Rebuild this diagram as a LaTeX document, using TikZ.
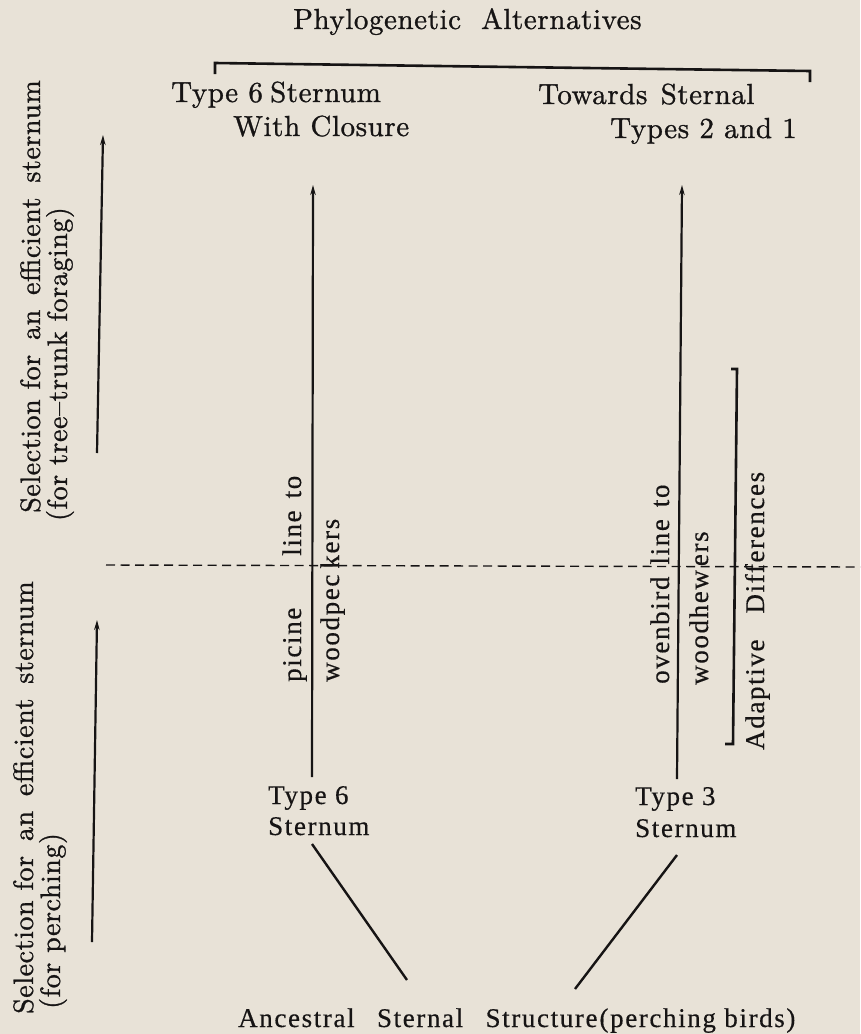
\documentclass[tikz,border=0pt]{standalone}
\usepackage{fontspec}
\setmainfont{Liberation Serif}
\newfontfamily\fa{lmroman10-regular.otf}[LetterSpace=2,FakeBold=1]
\newfontfamily\fb{Liberation Serif}[LetterSpace=6,FakeBold=0.4]
\usetikzlibrary{arrows.meta}
\definecolor{paper}{RGB}{232,226,215}
\definecolor{ink}{RGB}{22,20,20}
\begin{document}
\begin{tikzpicture}[x=1pt,y=-1pt,
  upper/.style={font=\fa\fontsize{29}{32}\selectfont, inner sep=0pt, text=ink},
  side/.style={font=\fa\fontsize{28}{31}\selectfont, inner sep=0pt, text=ink},
  lower/.style={font=\fb\fontsize{27}{30}\selectfont, inner sep=0pt, text=ink},
  arr/.style={draw=ink, line width=2.2pt, -{Stealth[length=10pt,width=5.5pt]}},
  plainline/.style={draw=ink, line width=2.4pt},
  bracketline/.style={draw=ink, line width=2.6pt, line cap=butt},
  dashline/.style={draw=ink, line width=1.4pt, dash pattern=on 9pt off 5.5pt}]
\fill[paper] (0,0) rectangle (860,1034);
\useasboundingbox (0,0) rectangle (860,1034);

% top texts
\node[upper, anchor=base west] (title) at (293,29) {Phylogenetic\hspace{20pt}Alternatives};
\node[upper, anchor=base west] (t6a) at (171,102) {Type 6\hspace{-3pt} Sternum};
\node[upper, anchor=base west] (t6b) at (233,136) {With Closure};
\node[upper, anchor=base west] (t21a) at (538,104) {Towards\hspace{3pt} Sternal};
\node[upper, anchor=base west] (t21b) at (610,138) {Types 2 and 1};

% phylogenetic bracket
\coordinate (bl0) at (215,74);
\coordinate (bl1) at (215,63);
\coordinate (br1) at (810,71);
\coordinate (br0) at (810,82);
\draw[bracketline] (bl0) -- (bl1) -- (br1) -- (br0);

% left vertical texts
\node[side, rotate=90, anchor=base east] (selU) at (40,80) {Selection for\hspace{5pt} an\hspace{5pt} efficient\hspace{5pt} sternum};
\node[side, rotate=90, anchor=base east] (forU) at (67,207) {(for tree–trunk foraging)};
\node[side, rotate=90, anchor=base west] (selL) at (33,1014) {Selection for\hspace{5pt} an\hspace{5pt} efficient\hspace{5pt} sternum};
\node[side, rotate=90, anchor=base west] (forL) at (60,1009) {(for perching)};

% left arrows
\coordinate (aU0) at (97,453);
\coordinate (aU1) at (103,135);
\coordinate (aL0) at (92,942);
\coordinate (aL1) at (97,620);
\draw[arr] (aU0) -- (aU1);
\draw[arr] (aL0) -- (aL1);

% dashed divider
\coordinate (d0) at (106,565);
\coordinate (d1) at (860,567);
\draw[dashline] (d0) -- (d1);

% lower sternum labels
\node[lower, anchor=base west] (s6a) at (268,804) {Type 6};
\node[lower, anchor=base west] (s6b) at (268,835) {Sternum};
\node[lower, anchor=base west] (s3a) at (635,805) {Type 3};
\node[lower, anchor=base west] (s3b) at (635,837) {Sternum};
\node[lower, anchor=base west] (anc) at (238,1027) {Ancestral\hspace{14pt} Sternal\hspace{14pt} Structure\hspace{2pt}(perching birds)};

% lineage arrows
\coordinate (p0) at (312,777);
\coordinate (p1) at (313,185);
\coordinate (o0) at (677,779);
\coordinate (o1) at (682,185);
\draw[arr] (p0) -- (p1);
\draw[arr] (o0) -- (o1);

% rotated lineage labels
\node[lower, rotate=90, anchor=base west] (pic) at (301,682) {picine\hspace{52pt}line\hspace{12pt}to};
\node[lower, rotate=90, anchor=base west] (wp) at (339,682) {woodpec\hspace{6pt}kers};
\node[lower, rotate=90, anchor=base west] (ov) at (669,684) {ovenbird\hspace{12pt}line\hspace{12pt}to};
\node[lower, rotate=90, anchor=base west] (wh) at (708,685) {woodhew\hspace{4pt}ers};
\node[lower, rotate=90, anchor=base west] (ad) at (764,750) {Adaptive\hspace{26pt}Differences};

% adaptive bracket
\coordinate (ab0) at (731,369);
\coordinate (ab1) at (737,369);
\coordinate (ab2) at (733,744);
\coordinate (ab3) at (725,744);
\draw[bracketline] (ab0) -- (ab1) -- (ab2) -- (ab3);

% diagonals to ancestral structure
\coordinate (g6) at (312,844);
\coordinate (g3) at (677,855);
\coordinate (ga) at (407,980);
\coordinate (gb) at (575,989);
\draw[plainline] (g6) -- (ga);
\draw[plainline] (g3) -- (gb);
\end{tikzpicture}
\end{document}
